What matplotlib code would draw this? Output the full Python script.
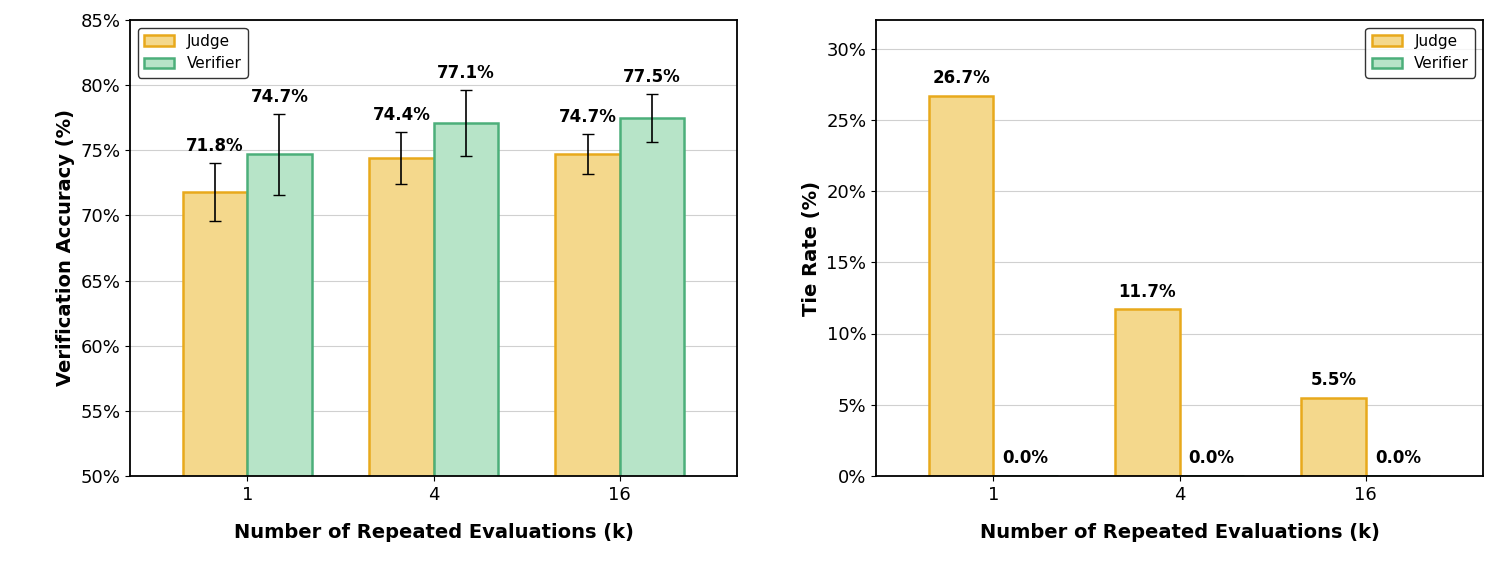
import numpy as np
import matplotlib
matplotlib.use("Agg")
import matplotlib.pyplot as plt
from matplotlib.ticker import FuncFormatter

ks = ["1", "4", "16"]
judge_acc = [71.8, 74.4, 74.7]
judge_err = [2.2, 2.0, 1.55]
verifier_acc = [74.7, 77.1, 77.5]
verifier_err = [3.1, 2.55, 1.85]
judge_tie = [26.7, 11.7, 5.5]
verifier_tie = [0.0, 0.0, 0.0]

judge_face, judge_edge = "#f4d88c", "#e8a91c"
ver_face, ver_edge = "#b7e4c8", "#4caf7a"
pct = FuncFormatter(lambda v, p: "%d%%" % v)

fig = plt.figure(figsize=(15.12, 5.72), dpi=100)
ax1 = fig.add_axes([130/1512, 96/572, 607/1512, 456/572])
ax2 = fig.add_axes([876/1512, 96/572, 607/1512, 456/572])
x = np.arange(len(ks))
w = 0.345

# left: accuracy
ax1.bar(x - w/2, judge_acc, w, color=judge_face, edgecolor=judge_edge, linewidth=1.8, label="Judge", zorder=2)
ax1.bar(x + w/2, verifier_acc, w, color=ver_face, edgecolor=ver_edge, linewidth=1.8, label="Verifier", zorder=2)
ax1.errorbar(x - w/2, judge_acc, yerr=judge_err, fmt="none", ecolor="black", capsize=4, lw=1.2, zorder=3)
ax1.errorbar(x + w/2, verifier_acc, yerr=verifier_err, fmt="none", ecolor="black", capsize=4, lw=1.2, zorder=3)
for i in range(len(ks)):
    ax1.text(x[i] - w/2, judge_acc[i] + judge_err[i] + 0.6, "%.1f%%" % judge_acc[i], ha="center", va="bottom", fontsize=12, fontweight="bold")
    ax1.text(x[i] + w/2, verifier_acc[i] + verifier_err[i] + 0.6, "%.1f%%" % verifier_acc[i], ha="center", va="bottom", fontsize=12, fontweight="bold")
ax1.set_ylim(50, 85)
ax1.yaxis.set_major_formatter(pct)
ax1.set_ylabel("Verification Accuracy (%)", fontsize=14, fontweight="bold")
ax1.legend(loc="upper left", fontsize=11, edgecolor="black", fancybox=True)

# right: tie rate
ax2.bar(x - w/2, judge_tie, w, color=judge_face, edgecolor=judge_edge, linewidth=1.8, label="Judge", zorder=2)
ax2.bar(x + w/2, verifier_tie, w, color=ver_face, edgecolor=ver_edge, linewidth=1.8, label="Verifier", zorder=2)
for i in range(len(ks)):
    ax2.text(x[i] - w/2, judge_tie[i] + 0.6, "%.1f%%" % judge_tie[i], ha="center", va="bottom", fontsize=12, fontweight="bold")
    ax2.text(x[i] + w/2, verifier_tie[i] + 0.6, "%.1f%%" % verifier_tie[i], ha="center", va="bottom", fontsize=12, fontweight="bold")
ax2.set_ylim(0, 32)
ax2.set_yticks(range(0, 31, 5))
ax2.yaxis.set_major_formatter(pct)
ax2.set_ylabel("Tie Rate (%)", fontsize=14, fontweight="bold")
ax2.legend(loc="upper right", fontsize=11, edgecolor="black", fancybox=True)

for ax in (ax1, ax2):
    ax.set_xticks(x)
    ax.set_xticklabels(ks)
    ax.set_xlim(-0.63, 2.63)
    ax.set_xlabel("Number of Repeated Evaluations (k)", fontsize=14, fontweight="bold", labelpad=14)
    ax.tick_params(labelsize=13)
    ax.grid(axis="y", color="#d0d0d0", lw=0.8, zorder=0)
    ax.set_axisbelow(True)
    for s in ax.spines.values():
        s.set_linewidth(1.3)

fig.savefig("out.png", dpi=100)
